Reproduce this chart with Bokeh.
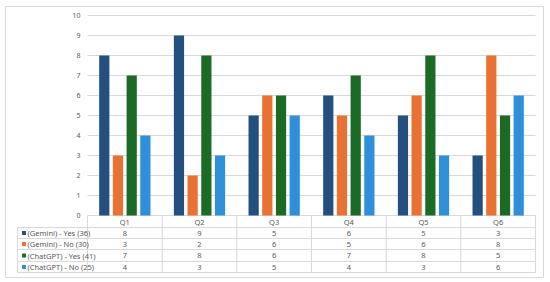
from bokeh.plotting import figure
from bokeh.models import Range1d, ColumnDataSource
from bokeh.core.properties import value
from bokeh.embed import file_html
from bokeh.resources import INLINE

categories = ["Q1", "Q2", "Q3", "Q4", "Q5", "Q6"]
series_names = ["(Gemini) - Yes (36)", "(Gemini) - No (30)", "(ChatGPT) - Yes (41)", "(ChatGPT) - No (25)"]
gemini_yes = [8, 9, 5, 6, 5, 3]
gemini_no = [3, 2, 6, 5, 6, 8]
chatgpt_yes = [7, 8, 6, 7, 8, 5]
chatgpt_no = [4, 3, 5, 4, 3, 6]
y_ticks = [0, 1, 2, 3, 4, 5, 6, 7, 8, 9, 10]

colors = ["#24507f", "#e97132", "#1b6b26", "#2f8fd8"]
series = [gemini_yes, gemini_no, chatgpt_yes, chatgpt_no]
offsets = [-0.275, -0.092, 0.092, 0.275]
FONT = value("Noto Sans")
TXT = "#595959"
GRID = "#d9d9d9"

ncat = len(categories)
centers = [i + 0.5 for i in range(ncat)]
px = 448 / ncat            # pixels per category unit
x0_px = 87                 # pixel of the value axis
left = -70 / px            # left edge of table legend column

p = figure(width=550, height=282,
           x_range=Range1d((5 - x0_px) / px, (543 - x0_px) / px),
           y_range=Range1d(-(277 - 215) / 20, (215 - 6) / 20),
           output_backend="svg", toolbar_location=None, x_axis_type=None, y_axis_type=None,
           min_border_left=5, min_border_right=7, min_border_top=6, min_border_bottom=5)
p.outline_line_color = GRID
p.outline_line_width = 1
p.xgrid.grid_line_color = None
p.ygrid.grid_line_color = None

# horizontal gridlines and value labels
p.segment(x0=[0] * len(y_ticks), x1=[ncat] * len(y_ticks), y0=y_ticks, y1=y_ticks,
          line_color=GRID, line_width=1)
p.text(x=[-7 / px] * len(y_ticks), y=y_ticks, text=[str(t) for t in y_ticks], text_font=FONT,
       text_font_size=value("7px"), text_color=TXT, text_align="right", text_baseline="middle")

# bars
for vals, col, off in zip(series, colors, offsets):
    src = ColumnDataSource(dict(x=[c + off for c in centers], top=vals))
    p.vbar(x="x", top="top", bottom=0, width=0.137, source=src, color=col, line_color=None)

# data table
row_lines = [-0.6, -1.15, -1.7, -2.3, -2.85]
row_centers = [-0.875, -1.425, -2.0, -2.575]
header_y = -0.3

p.segment(x0=[left] * len(row_lines), x1=[ncat] * len(row_lines), y0=row_lines, y1=row_lines,
          line_color=GRID, line_width=1)
p.segment(x0=list(range(ncat + 1)), x1=list(range(ncat + 1)),
          y0=[0] * (ncat + 1), y1=[-2.85] * (ncat + 1), line_color=GRID, line_width=1)
p.segment(x0=[left], x1=[left], y0=[-0.6], y1=[-2.85], line_color=GRID, line_width=1)

p.text(x=centers, y=[header_y] * ncat, text=categories, text_font=FONT, text_font_size=value("7.5px"),
       text_color=TXT, text_align="center", text_baseline="middle")
for vals, yc in zip(series, row_centers):
    p.text(x=centers, y=[yc] * ncat, text=[str(v) for v in vals], text_font=FONT,
           text_font_size=value("7.5px"), text_color=TXT, text_align="center", text_baseline="middle")

sw_x = left + 6.5 / px
lab_x = left + 10 / px
p.rect(x=[sw_x] * 4, y=row_centers, width=4, height=4, width_units="screen", height_units="screen",
       fill_color=colors, line_color=None)
p.text(x=[lab_x] * 4, y=row_centers, text=series_names, text_font=FONT, text_font_size=value("7.5px"),
       text_color=TXT, text_align="left", text_baseline="middle")

open("out.html", "w").write(file_html(p, INLINE))
